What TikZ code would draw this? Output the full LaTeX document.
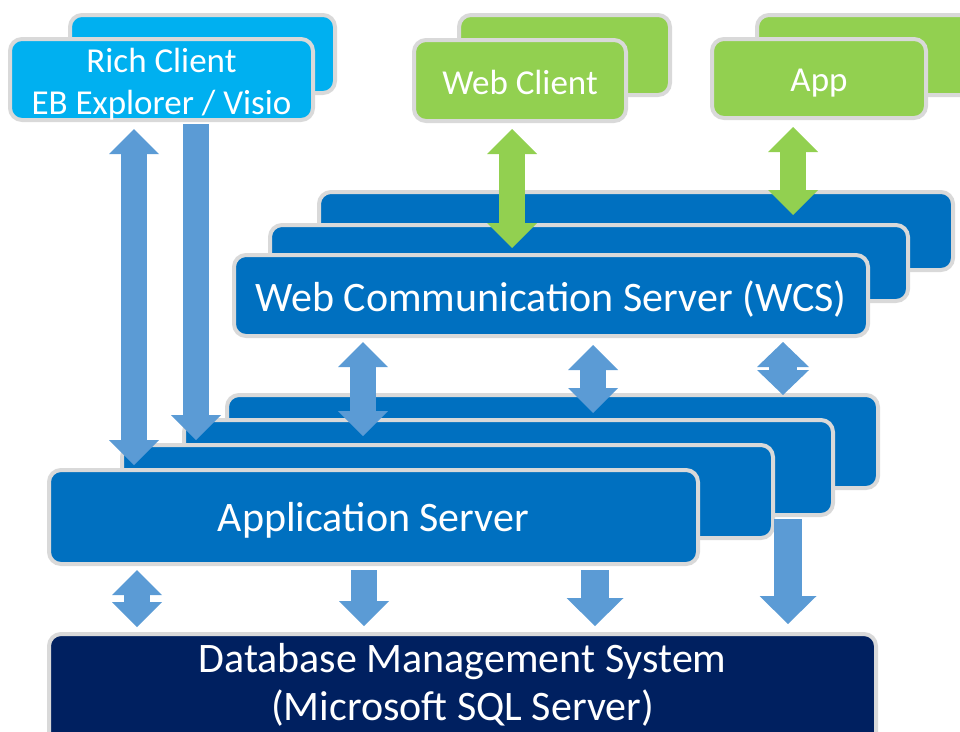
\documentclass[tikz,border=0pt]{standalone}
\usepackage{fontspec}
\setmainfont{Carlito}
\usetikzlibrary{arrows.meta}
\definecolor{cyanbox}{HTML}{00B0F0}
\definecolor{greenbox}{HTML}{92D050}
\definecolor{bluebox}{HTML}{0070C0}
\definecolor{navybox}{HTML}{002060}
\definecolor{arrowblue}{HTML}{5B9BD5}
\definecolor{edgegray}{HTML}{D9D9D9}
\begin{document}
\begin{tikzpicture}[x=1pt,y=-1pt,
  box/.style={draw=edgegray, line width=4pt, rounded corners=12pt, inner sep=0pt},
  txt/.style={text=white, align=center, inner sep=0pt},
  bigtext/.style={font=\fontsize{42}{50}\selectfont},
  dbtext/.style={font=\fontsize{42}{48}\selectfont},
  smalltext/.style={font=\fontsize{35}{42}\selectfont},
  barrow/.style={draw=arrowblue, line width=26pt,
    >={Triangle[length=25pt 0 1, width=50pt 0 1, line width=0pt 0 0]}},
  garrow/.style={draw=greenbox, line width=26pt,
    >={Triangle[length=25pt 0 1, width=50pt 0 1, line width=0pt 0 0]}},
  wideblue/.style={draw=arrowblue, line width=28pt,
    >={Triangle[length=28pt 0 1, width=57pt 0 1, line width=0pt 0 0]}},
  shortblue/.style={draw=arrowblue, line width=28pt,
    >={Triangle[length=25pt 0 1, width=52pt 0 1, line width=0pt 0 0]}}
]
\useasboundingbox (0,0) rectangle (960,731);

% clients
\node[box, fill=cyanbox, minimum width=265pt, minimum height=78pt] (rcb) at (202.5,54) {};
\node[box, fill=cyanbox, minimum width=303pt, minimum height=81pt] (rcf) at (161.5,79.5) {};
\node[txt, smalltext] (rct) at ([yshift=-5pt]rcf.center) {Rich Client\\EB Explorer / Visio};
\node[box, fill=greenbox, minimum width=211pt, minimum height=80pt] (wcb) at (564.5,55) {};
\node[box, fill=greenbox, minimum width=212pt, minimum height=81pt] (wcf) at (520,80.5) {};
\node[txt, smalltext] (wct) at ([yshift=-2pt]wcf.center) {Web Client};
\node[box, fill=greenbox, minimum width=241pt, minimum height=80pt] (apb) at (877.5,55) {};
\node[box, fill=greenbox, minimum width=214pt, minimum height=79pt] (apf) at (819,78.5) {};
\node[txt, smalltext] (apt) at ([yshift=-5pt]apf.center) {App};

% web communication server stack
\node[box, fill=bluebox, minimum width=634pt, minimum height=78pt] (wsb) at (636,231) {};
\node[box, fill=bluebox, minimum width=638pt, minimum height=76pt] (wsm) at (589,263) {};
\node[box, fill=bluebox, minimum width=634pt, minimum height=81pt] (wsf) at (551,295.5) {};
\node[txt, bigtext] (wst) at ([yshift=-4pt]wsf.center) {Web Communication Server (WCS)};

% application server stack
\node[box, fill=bluebox, minimum width=651pt, minimum height=93pt] (asb) at (552.5,441.5) {};
\node[box, fill=bluebox, minimum width=649pt, minimum height=95pt] (as2) at (508.5,467.5) {};
\node[box, fill=bluebox, minimum width=651pt, minimum height=93pt] (as3) at (447.5,491.5) {};
\node[box, fill=bluebox, minimum width=649pt, minimum height=94pt] (asf) at (373.5,517) {};
\node[txt, bigtext] (ast) at ([yshift=-3.5pt]asf.center) {Application Server};

% database
\node[box, fill=navybox, minimum width=827pt, minimum height=144pt] (db) at (462.5,706) {};
\node[txt, dbtext] (dbt) at (462.5,685) {Database Management System\\(Microsoft SQL Server)};

% arrow columns
\coordinate (xa) at (134,0);
\coordinate (xb) at (196,0);
\coordinate (xg1) at (512,0);
\coordinate (xg2) at (793,0);
\coordinate (xb1) at (363,0);
\coordinate (xb2) at (593,0);
\coordinate (xb3) at (783,0);
\coordinate (xc1) at (137,0);
\coordinate (xc2) at (364,0);
\coordinate (xc3) at (595,0);
\coordinate (xc4) at (788,0);

% rich client arrows
\draw[barrow, <->, shorten <=7pt, shorten >=3pt] (rcf.south -| xa) -- (asf.north -| xa);
\draw[barrow, ->, shorten <=2pt, shorten >=3pt] (rcf.south -| xb) -- (as3.north -| xb);

% green arrows
\draw[garrow, <->, shorten <=6pt, shorten >=5pt] (wcf.south -| xg1) -- (wsf.north -| xg1);
\draw[garrow, <->, shorten <=7pt, shorten >=8pt] (apf.south -| xg2) -- (wsm.north -| xg2);

% WCS to application server
\draw[barrow, <->, shorten <=4pt, shorten >=7pt] (wsf.south -| xb1) -- (as3.north -| xb1);
\draw[barrow, <->, shorten <=7pt, shorten >=5pt] (wsf.south -| xb2) -- (as2.north -| xb2);
\draw[shortblue, <->, shorten <=4pt, shorten >=-2pt] (wsf.south -| xb3) -- (asb.north -| xb3);

% application server to database
\draw[barrow, <->, shorten <=4pt, shorten >=5pt] (asf.south -| xc1) -- (db.north -| xc1);
\draw[barrow, ->, shorten <=4pt, shorten >=6pt] (asf.south -| xc2) -- (db.north -| xc2);
\draw[wideblue, ->, shorten <=4pt, shorten >=6pt] (asf.south -| xc3) -- (db.north -| xc3);
\draw[wideblue, ->, shorten <=2pt, shorten >=8pt] (as2.south -| xc4) -- (db.north -| xc4);
\end{tikzpicture}
\end{document}
